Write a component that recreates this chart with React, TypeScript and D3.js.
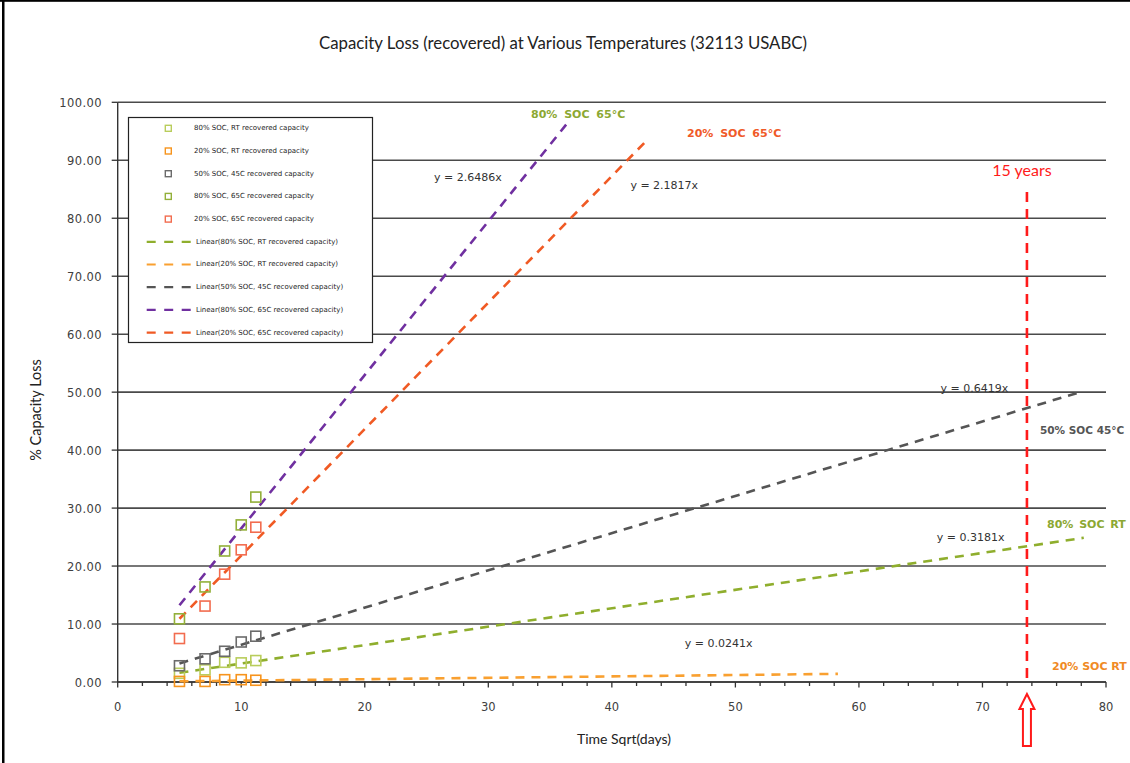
import React from "react";
import * as d3 from "d3";

// Square-root of test time (days) at each check-up
const sqrtDays = [5, 7.07, 8.66, 10, 11.18];

// Recovered capacity loss (%) per storage condition
const soc80RT = [1.5, 2.1, 3.4, 3.3, 3.7];
const soc20RT = [0.1, 0.1, 0.4, 0.4, 0.3];
const soc50T45 = [2.8, 4.0, 5.3, 6.9, 7.9];
const soc80T65 = [10.9, 16.4, 22.6, 27.1, 31.9];
const soc20T65 = [7.5, 13.1, 18.6, 22.8, 26.7];

const seriesNames = [
  "80% SOC, RT recovered capacity",
  "20% SOC, RT recovered capacity",
  "50% SOC, 45C recovered capacity",
  "80% SOC, 65C recovered capacity",
  "20% SOC, 65C recovered capacity",
];

// Linear fits through the origin: slope and the x where each fit stops
const trendSlopes = [0.3181, 0.0241, 0.6419, 2.6486, 2.1817];
const trendStartX = [5, 5, 5, 5, 5];
const trendEndX = [78.2, 58.3, 77.8, 36.3, 43.0];
const equationLabels = ["y = 0.3181x", "y = 0.0241x", "y = 0.6419x", "y = 2.6486x", "y = 2.1817x"];

const yTicks = [0, 10, 20, 30, 40, 50, 60, 70, 80, 90, 100];
const xTicks = [0, 10, 20, 30, 40, 50, 60, 70, 80];
const xMinorTicks = d3.range(0, 81, 2);

// sqrt(15 years in days) marker
const fifteenYearsX = 73.6;

const markerColors = ["#b9cd5c", "#f7941d", "#6b6b6b", "#93b03a", "#f26c4f"];
const trendColors = ["#8fae2d", "#f9a030", "#555555", "#7030a0", "#f05a24"];

const W = 1130;
const H = 763;

export default function App() {
  const x = d3.scaleLinear().domain([0, 80]).range([117.7, 1106]);
  const y = d3.scaleLinear().domain([0, 100]).range([682, 102.3]);

  const values = [soc80RT, soc20RT, soc50T45, soc80T65, soc20T65];
  const line = d3
    .line<[number, number]>()
    .x((d) => x(d[0]))
    .y((d) => y(d[1]));

  const tickFont = "DejaVu Sans, Verdana, sans-serif";
  const narrowFont = "Lato, 'Open Sans', sans-serif";

  // label placements for equation text (left x, centre y in data units)
  const eqPos: [number, number][] = [
    [66.3, 24.9],
    [45.9, 6.6],
    [66.6, 50.6],
    [25.6, 87.0],
    [41.5, 85.5],
  ];

  const xf = x(fifteenYearsX);

  return (
    <div style={{ position: "fixed", left: 0, top: 0, width: W, height: H, background: "#fff" }}>
      <svg width={W} height={H} style={{ display: "block" }}>
        <rect x={0} y={0} width={W} height={H} fill="#fff" />
        {/* frame */}
        <rect x={2} y={0} width={2.5} height={H} fill="#000" />
        <rect x={0} y={0} width={W} height={1.8} fill="#000" />

        <text
          x={563}
          y={45}
          textAnchor="middle"
          dominantBaseline="middle"
          fontFamily={narrowFont}
          fontSize={16.8}
          fill="#222"
        >
          Capacity Loss (recovered) at Various Temperatures (32113 USABC)
        </text>

        {/* horizontal gridlines */}
        {yTicks.map((t) => (
          <line
            key={"g" + t}
            x1={x(0)}
            x2={x(80)}
            y1={y(t)}
            y2={y(t)}
            stroke="#4a4a4a"
            strokeWidth={1.6}
          />
        ))}

        {/* y axis */}
        <line x1={x(0)} x2={x(0)} y1={y(100)} y2={y(0)} stroke="#333" strokeWidth={1.4} />
        {yTicks.map((t) => (
          <g key={"yt" + t}>
            <line x1={x(0) - 6} x2={x(0)} y1={y(t)} y2={y(t)} stroke="#333" strokeWidth={1.3} />
            <text
              x={102}
              y={y(t) + 1}
              textAnchor="end"
              dominantBaseline="middle"
              fontFamily={tickFont}
              fontSize={11.5}
              letterSpacing={0.4}
              fill="#404040"
            >
              {t.toFixed(2)}
            </text>
          </g>
        ))}

        {/* x axis */}
        <line x1={x(0)} x2={x(80)} y1={y(0)} y2={y(0)} stroke="#333" strokeWidth={1.4} />
        {xMinorTicks.map((t) => (
          <line
            key={"xm" + t}
            x1={x(t)}
            x2={x(t)}
            y1={y(0)}
            y2={y(0) + (t % 10 === 0 ? 5.5 : 4)}
            stroke="#333"
            strokeWidth={1.3}
          />
        ))}
        {xTicks.map((t) => (
          <text
            key={"xt" + t}
            x={x(t)}
            y={707}
            textAnchor="middle"
            dominantBaseline="middle"
            fontFamily={tickFont}
            fontSize={11.5}
            fill="#404040"
          >
            {t}
          </text>
        ))}

        <text
          x={624}
          y={740}
          textAnchor="middle"
          dominantBaseline="middle"
          fontFamily={narrowFont}
          fontSize={14}
          fill="#222"
        >
          Time Sqrt(days)
        </text>
        <text
          transform={`translate(37,410) rotate(-90)`}
          textAnchor="middle"
          dominantBaseline="middle"
          fontFamily={narrowFont}
          fontSize={14.5}
          fill="#222"
        >
          % Capacity Loss
        </text>

        {/* trend lines */}
        {trendSlopes.map((m, i) => (
          <path
            key={"tr" + i}
            d={line([
              [trendStartX[i], m * trendStartX[i]],
              [trendEndX[i], m * trendEndX[i]],
            ])!}
            fill="none"
            stroke={trendColors[i]}
            strokeWidth={2.6}
            strokeDasharray="9 7"
          />
        ))}

        {/* data markers */}
        {values.map((vals, i) =>
          vals.map((v, j) => (
            <rect
              key={"m" + i + "-" + j}
              x={x(sqrtDays[j]) - 5}
              y={y(v) - 5}
              width={10}
              height={10}
              fill="none"
              stroke={markerColors[i]}
              strokeWidth={1.6}
            />
          ))
        )}

        {/* equations */}
        {equationLabels.map((s, i) => (
          <text
            key={"eq" + i}
            x={x(eqPos[i][0])}
            y={y(eqPos[i][1])}
            dominantBaseline="middle"
            fontFamily={tickFont}
            fontSize={11}
            fill="#333"
          >
            {s}
          </text>
        ))}

        {/* series callouts */}
        <g fontFamily={tickFont} fontSize={11} fontWeight="bold" dominantBaseline="middle">
          <text x={531} y={115} fill="#8ca832" wordSpacing={3}>
            80% SOC 65°C
          </text>
          <text x={687} y={134} fill="#f05a28" wordSpacing={3}>
            20% SOC 65°C
          </text>
          <text x={1040} y={431} fill="#555" fontSize={10.5} wordSpacing={0}>
            50% SOC 45°C
          </text>
          <text x={1047} y={525} fill="#8ca832" wordSpacing={2}>
            80% SOC RT
          </text>
          <text x={1052} y={667} fill="#f08a24">
            20% SOC RT
          </text>
        </g>

        {/* 15-year marker */}
        <line
          x1={xf}
          x2={xf}
          y1={192}
          y2={y(0)}
          stroke="#ff1a1a"
          strokeWidth={2.6}
          strokeDasharray="10 7"
        />
        <text
          x={1022}
          y={172}
          textAnchor="middle"
          dominantBaseline="middle"
          fontFamily={narrowFont}
          fontSize={16}
          fill="#ff1a1a"
        >
          15 years
        </text>
        <polygon
          points={[
            [xf, 694],
            [xf + 7.5, 709],
            [xf + 4, 709],
            [xf + 4, 746],
            [xf - 4, 746],
            [xf - 4, 709],
            [xf - 7.5, 709],
          ]
            .map((p) => p.join(","))
            .join(" ")}
          fill="#fff"
          stroke="#ff1a1a"
          strokeWidth={2}
        />

        {/* legend */}
        <g>
          <rect x={128.5} y={117.5} width={244} height={225} fill="#fff" stroke="#222" strokeWidth={1.2} />
          {seriesNames.map((name, i) => {
            const ly = 128.3 + i * 22.7;
            return (
              <g key={"lm" + i}>
                <rect
                  x={165.3}
                  y={ly - 3}
                  width={6}
                  height={6}
                  fill="none"
                  stroke={markerColors[i]}
                  strokeWidth={1.4}
                />
                <text
                  x={194}
                  y={ly}
                  dominantBaseline="middle"
                  fontFamily={tickFont}
                  fontSize={7}
                  fill="#222"
                >
                  {name}
                </text>
              </g>
            );
          })}
          {seriesNames.map((name, i) => {
            const ly = 128.3 + (i + 5) * 22.7;
            return (
              <g key={"ll" + i}>
                <line
                  x1={146.7}
                  x2={191.7}
                  y1={ly}
                  y2={ly}
                  stroke={trendColors[i]}
                  strokeWidth={2.2}
                  strokeDasharray="9 8.5"
                />
                <text
                  x={196}
                  y={ly}
                  dominantBaseline="middle"
                  fontFamily={tickFont}
                  fontSize={7}
                  fill="#222"
                >
                  {"Linear(" + name + ")"}
                </text>
              </g>
            );
          })}
        </g>
      </svg>
    </div>
  );
}
